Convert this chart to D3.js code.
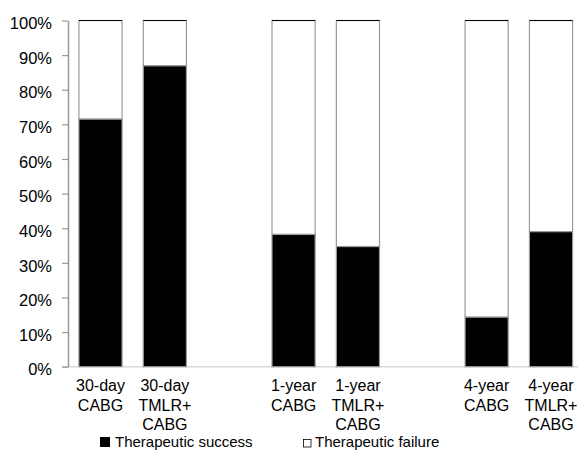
<!DOCTYPE html>
<html><head><meta charset="utf-8">
<script src="https://cdn.jsdelivr.net/npm/d3@7"></script>
<style>body{margin:0;background:#fff}svg{display:block}text{font-family:Arial,"Liberation Sans",sans-serif;fill:#000}</style>
</head><body><svg id="c" width="578" height="472"></svg>
<script>
// Data
const categories = ["30-day\nCABG", "30-day\nTMLR+\nCABG", "", "1-year\nCABG", "1-year\nTMLR+\nCABG", "", "4-year\nCABG", "4-year\nTMLR+\nCABG"];
const success = [0.715, 0.869, null, 0.382, 0.347, null, 0.143, 0.390];
const failure = success.map(v => v == null ? null : 1 - v);
const yTicks = [0, 0.1, 0.2, 0.3, 0.4, 0.5, 0.6, 0.7, 0.8, 0.9, 1.0];
const legendLabels = ["Therapeutic success", "Therapeutic failure"];

const svg = d3.select("#c");
const x = d3.scaleBand().domain(d3.range(categories.length)).range([68, 583.5]).paddingInner(0.33).paddingOuter(0.17);
const y = d3.scaleLinear().domain([0, 1]).range([366.7, 20.5]);

// baseline
svg.append("line").attr("x1", 62).attr("x2", 578).attr("y1", y(0)).attr("y2", y(0))
  .attr("stroke", "#d9d9d9").attr("stroke-width", 1.5);

// y axis
const yAxis = svg.append("g").attr("transform", "translate(68,0)")
  .call(d3.axisLeft(y).tickValues(yTicks).tickFormat(d3.format(".0%")).tickSize(6).tickSizeOuter(0).tickPadding(10));
yAxis.select(".domain").attr("stroke", "#999").attr("stroke-width", 1.5);
yAxis.selectAll(".tick line").attr("stroke", "#999").attr("stroke-width", 1.2);
yAxis.selectAll(".tick text").attr("font-size", 16.5).attr("font-family", "Arial, 'Liberation Sans', sans-serif").attr("fill", "#000").attr("dy", "0.5em");

const idx = d3.range(categories.length).filter(i => success[i] != null);

// failure (upper) parts
svg.append("g").selectAll("rect").data(idx).join("rect")
  .attr("x", i => x(i)).attr("width", x.bandwidth())
  .attr("y", i => y(1)).attr("height", i => y(success[i]) - y(1))
  .attr("fill", "#fff").attr("stroke", "#999").attr("stroke-width", 1.2);
svg.append("g").selectAll("line").data(idx).join("line")
  .attr("x1", i => x(i)).attr("x2", i => x(i) + x.bandwidth())
  .attr("y1", y(1)).attr("y2", y(1)).attr("stroke", "#000").attr("stroke-width", 1.2);
// success parts
svg.append("g").selectAll("rect").data(idx).join("rect")
  .attr("x", i => x(i)).attr("width", x.bandwidth())
  .attr("y", i => y(success[i])).attr("height", i => y(0) - y(success[i]))
  .attr("fill", "#000").attr("stroke", "#999").attr("stroke-width", 1.2);

// category labels
const lab = svg.append("g").selectAll("text").data(idx).join("text")
  .attr("text-anchor", "middle").attr("font-size", 16)
  .attr("transform", i => `translate(${x(i) + x.bandwidth() / 2},391)`);
lab.selectAll("tspan").data(i => categories[i].split("\n")).join("tspan")
  .attr("x", 0).attr("y", (d, k) => k * 19.5).text(d => d);

// legend
const lg = svg.append("g");
lg.append("rect").attr("x", 100).attr("y", 437).attr("width", 10).attr("height", 10).attr("fill", "#000");
lg.append("text").attr("x", 115).attr("y", 447).attr("font-size", 15).text(legendLabels[0]);
lg.append("rect").attr("x", 303.5).attr("y", 439.5).attr("width", 7.5).attr("height", 7.5).attr("fill", "#fff").attr("stroke", "#000").attr("stroke-width", 0.8);
lg.append("text").attr("x", 315).attr("y", 447).attr("font-size", 15).text(legendLabels[1]);
</script></body></html>
